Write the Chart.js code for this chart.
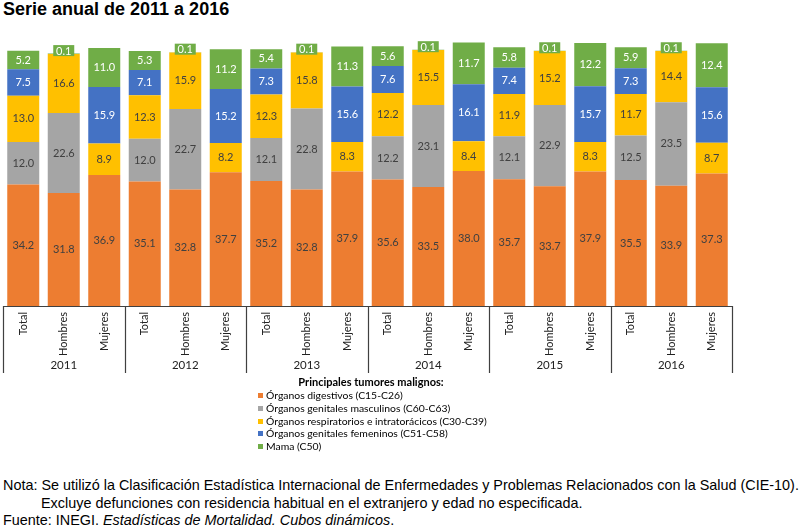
<!DOCTYPE html>
<html lang="es">
<head>
<meta charset="utf-8">
<title>Serie anual de 2011 a 2016</title>
<script src="https://cdn.jsdelivr.net/npm/chart.js@4.4.1/dist/chart.umd.min.js"></script>
<style>
    body { margin: 0; background: #fff; }
    #page { position: relative; width: 800px; height: 530px; overflow: hidden; font-family: "Liberation Sans", Arial, sans-serif; }
    #title { position: absolute; left: 3px; top: -1px; font-size: 18px; font-weight: bold; color: #000; }
    #chartBox { position: absolute; left: 0; top: 0; width: 800px; height: 380px; }
    #legend { position: absolute; left: 258px; top: 375px; font-family: Lato, "Noto Sans", sans-serif; font-size: 10.4px; color: #000; }
    #legend .head { font-weight: bold; font-size: 11px; text-align: center; width: 226px; margin-bottom: 1px; }
    #legend .item { height: 12.8px; line-height: 12.8px; white-space: nowrap; }
    #legend .box { display: inline-block; width: 5px; height: 5px; margin-right: 3px; vertical-align: 1px; }
    #notes { position: absolute; left: 3px; top: 477px; font-size: 14.4px; line-height: 17.5px; color: #000; white-space: nowrap; }
    #notes .indent { padding-left: 38px; }
</style>
</head>
<body>
<div id="page">
    <div id="title">Serie anual de 2011 a 2016</div>
    <div id="chartBox"><canvas id="tumoresChart" width="800" height="380"></canvas></div>
    <div id="legend"></div>
    <div id="notes">
        <div>Nota: Se utilizó la Clasificación Estadística Internacional de Enfermedades y Problemas Relacionados con la Salud (CIE-10).</div>
        <div class="indent">Excluye defunciones con residencia habitual en el extranjero y edad no especificada.</div>
        <div>Fuente: INEGI. <i>Estadísticas de Mortalidad. Cubos dinámicos</i>.</div>
    </div>
</div>
<script>
// Años y grupos del eje
const years = ['2011', '2012', '2013', '2014', '2015', '2016'];
const sexes = ['Total', 'Hombres', 'Mujeres'];

// Porcentajes por tumor (Total, Hombres, Mujeres por año)
const digestivos = [34.2, 31.8, 36.9, 35.1, 32.8, 37.7, 35.2, 32.8, 37.9, 35.6, 33.5, 38.0, 35.7, 33.7, 37.9, 35.5, 33.9, 37.3];
const genitalesMasc = [12.0, 22.6, null, 12.0, 22.7, null, 12.1, 22.8, null, 12.2, 23.1, null, 12.1, 22.9, null, 12.5, 23.5, null];
const respiratorios = [13.0, 16.6, 8.9, 12.3, 15.9, 8.2, 12.3, 15.8, 8.3, 12.2, 15.5, 8.4, 11.9, 15.2, 8.3, 11.7, 14.4, 8.7];
const genitalesFem = [7.5, null, 15.9, 7.1, null, 15.2, 7.3, null, 15.6, 7.6, null, 16.1, 7.4, null, 15.7, 7.3, null, 15.6];
const mama = [5.2, 0.1, 11.0, 5.3, 0.1, 11.2, 5.4, 0.1, 11.3, 5.6, 0.1, 11.7, 5.8, 0.1, 12.2, 5.9, 0.1, 12.4];

const seriesNames = [
    'Órganos digestivos (C15-C26)',
    'Órganos genitales masculinos (C60-C63)',
    'Órganos respiratorios e intratorácicos (C30-C39)',
    'Órganos genitales femeninos (C51-C58)',
    'Mama (C50)'
];

const COLORS = ['#ED7D31', '#A5A5A5', '#FFC000', '#4472C4', '#70AD47'];
const LABEL_COLORS = ['#404040', '#404040', '#404040', '#ffffff', '#ffffff'];

const labels = [];
years.forEach(y => sexes.forEach(s => labels.push(s)));

/**
 * Etiquetas de valor dentro de cada segmento
 */
const valueLabels = {
    id: 'valueLabels',
    afterDatasetsDraw(chart) {
        const ctx = chart.ctx;
        ctx.save();
        ctx.font = '11px Lato, "Noto Sans", sans-serif';
        ctx.textAlign = 'center';
        ctx.textBaseline = 'middle';
        chart.data.datasets.forEach((ds, di) => {
            const meta = chart.getDatasetMeta(di);
            meta.data.forEach((bar, i) => {
                const v = ds.data[i];
                if (v === null || v === undefined) return;
                const txt = v.toFixed(1);
                if (v < 1) {
                    // segmento muy pequeño: etiqueta con fondo encima
                    const cy = bar.y - 3;
                    ctx.fillStyle = COLORS[di];
                    ctx.fillRect(bar.x - 10.5, cy - 5.5, 21, 11);
                    ctx.fillStyle = '#ffffff';
                    ctx.fillText(txt, bar.x, cy + 0.5);
                } else {
                    ctx.fillStyle = LABEL_COLORS[di];
                    ctx.fillText(txt, bar.x, (bar.y + bar.base) / 2);
                }
            });
        });
        ctx.restore();
    }
};

/**
 * Eje X en dos niveles: sexo (girado) y año
 */
const groupedAxis = {
    id: 'groupedAxis',
    afterDraw(chart) {
        const ctx = chart.ctx;
        const x = chart.scales.x;
        const area = chart.chartArea;
        const pitch = x.getPixelForValue(1) - x.getPixelForValue(0);
        ctx.save();
        ctx.strokeStyle = '#404040';
        ctx.lineWidth = 1.2;
        ctx.beginPath();
        ctx.moveTo(area.left, area.bottom + 0.5);
        ctx.lineTo(area.right, area.bottom + 0.5);
        for (let g = 0; g <= years.length; g++) {
            const px = Math.round(x.getPixelForValue(g * 3) - pitch / 2) + 0.5;
            ctx.moveTo(px, area.bottom);
            ctx.lineTo(px, area.bottom + 67);
        }
        ctx.stroke();

        ctx.fillStyle = '#222';
        ctx.font = '11px Lato, "Noto Sans", sans-serif';
        labels.forEach((lab, i) => {
            ctx.save();
            ctx.translate(x.getPixelForValue(i), area.bottom + 6);
            ctx.rotate(-Math.PI / 2);
            ctx.textAlign = 'right';
            ctx.textBaseline = 'middle';
            ctx.fillText(lab, 0, 0);
            ctx.restore();
        });
        ctx.font = '11.5px Lato, "Noto Sans", sans-serif';
        ctx.textAlign = 'center';
        ctx.textBaseline = 'middle';
        years.forEach((yr, g) => {
            ctx.fillText(yr, x.getPixelForValue(g * 3 + 1), area.bottom + 59);
        });
        ctx.restore();
    }
};

const seriesData = [digestivos, genitalesMasc, respiratorios, genitalesFem, mama];

const ctx = document.getElementById('tumoresChart').getContext('2d');
const tumoresChart = new Chart(ctx, {
    type: 'bar',
    data: {
        labels: labels,
        datasets: seriesData.map((d, i) => ({
            label: seriesNames[i],
            data: d,
            backgroundColor: COLORS[i],
            borderWidth: 0,
            barPercentage: 0.79,
            categoryPercentage: 1
        }))
    },
    options: {
        responsive: false,
        animation: false,
        layout: { padding: { top: 22, left: 3, right: 68, bottom: 74 } },
        scales: {
            x: { stacked: true, display: false },
            y: { stacked: true, display: false, min: 0, max: 80 }
        },
        plugins: {
            legend: { display: false },
            tooltip: { enabled: false }
        }
    },
    plugins: [valueLabels, groupedAxis]
});

// Leyenda en HTML
const legendEl = document.getElementById('legend');
let html = '<div class="head">Principales tumores malignos:</div>';
seriesNames.forEach((name, i) => {
    html += '<div class="item"><span class="box" style="background:' + COLORS[i] + '"></span>' + name + '</div>';
});
legendEl.innerHTML = html;
</script>
</body>
</html>
